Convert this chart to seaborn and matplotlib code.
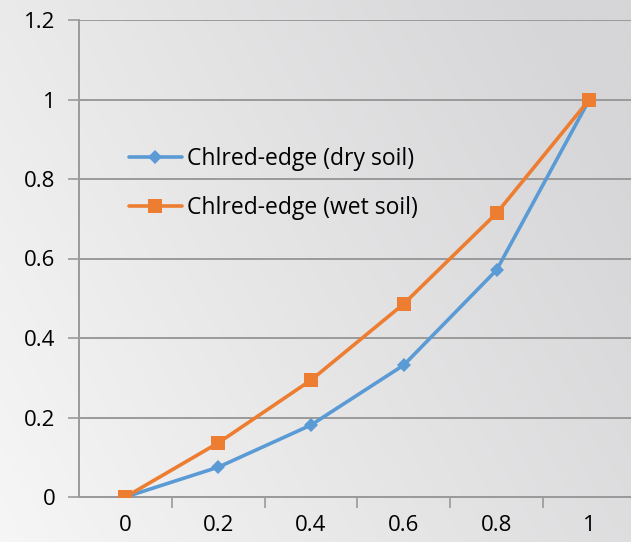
import numpy as np
import pandas as pd
import matplotlib
matplotlib.use("Agg")
import matplotlib.pyplot as plt
import seaborn as sns

# Data
x_labels = ["0", "0.2", "0.4", "0.6", "0.8", "1"]
dry_soil = [0.0, 0.075, 0.181, 0.332, 0.571, 1.0]
wet_soil = [0.0, 0.136, 0.294, 0.486, 0.714, 1.0]
series_names = ["Chlred-edge (dry soil)", "Chlred-edge (wet soil)"]
y_ticks = [0, 0.2, 0.4, 0.6, 0.8, 1.0, 1.2]
y_tick_labels = ["0", "0.2", "0.4", "0.6", "0.8", "1", "1.2"]

sns.set_theme(style="white")
plt.rcParams["font.family"] = ["Open Sans", "DejaVu Sans"]

df = pd.DataFrame({
    "pos": list(range(len(x_labels))) * 2,
    "value": dry_soil + wet_soil,
    "series": [series_names[0]] * len(dry_soil) + [series_names[1]] * len(wet_soil),
})

W, H = 631, 542
fig = plt.figure(figsize=(W / 100, H / 100), dpi=100)

# Soft grey gradient background
bg = fig.add_axes([0, 0, 1, 1], zorder=-10)
yy, xx = np.mgrid[0:1:200j, 0:1:200j]
t = np.clip(0.75 * xx + 0.35 * (1 - yy), 0, 1)
light = np.array([246, 246, 246]) / 255
dark = np.array([214, 213, 215]) / 255
img = light[None, None, :] * (1 - t[..., None]) + dark[None, None, :] * t[..., None]
bg.imshow(img, aspect="auto", extent=[0, 1, 0, 1], origin="upper")
bg.axis("off")

left = 79 / W
bottom = (H - 497) / H
top = (H - 20) / H
cat_w = 92.8 / W
ax = fig.add_axes([left, bottom, cat_w * 6, top - bottom])
ax.patch.set_alpha(0)

palette = {series_names[0]: "#5B9BD5", series_names[1]: "#ED7D31"}
markers = {series_names[0]: "D", series_names[1]: "s"}
sizes = {series_names[0]: 7, series_names[1]: 10}
for name in series_names:
    sub = df[df["series"] == name]
    sns.lineplot(data=sub, x="pos", y="value", ax=ax, color=palette[name],
                 marker=markers[name], markersize=sizes[name], linewidth=2.6,
                 markeredgewidth=0, label=name, zorder=3)

ax.set_xlim(-0.5, len(x_labels) - 0.5)
ax.set_ylim(0, 1.2)
ax.set_xlabel("")
ax.set_ylabel("")

# Horizontal gridlines extending into tick region
grid_c = "#9a9a9a"
ax.set_yticks(y_ticks)
ax.set_yticklabels(y_tick_labels)
ax.yaxis.grid(True, color=grid_c, linewidth=1.4)
ax.set_axisbelow(True)
ax.tick_params(axis="y", length=8, width=1.2, color=grid_c, pad=9,
               labelsize=16, labelcolor="black", direction="out", left=True)

# Category axis: labels at centers, tick marks at boundaries
ax.set_xticks(range(len(x_labels)))
ax.set_xticklabels(x_labels)
ax.tick_params(axis="x", which="major", length=0, pad=13, labelsize=16,
               labelcolor="black")
ax.set_xticks(np.arange(0.5, len(x_labels) - 0.5, 1.0), minor=True)
ax.tick_params(axis="x", which="minor", length=8, width=1.2, color=grid_c,
               direction="out", bottom=True)

for side in ["top", "right"]:
    ax.spines[side].set_visible(False)
for side in ["left", "bottom"]:
    ax.spines[side].set_color(grid_c)
    ax.spines[side].set_linewidth(1.4)

leg = ax.legend(loc="upper left", bbox_to_anchor=(0.073, 0.752), frameon=False,
                fontsize=16.5, handlelength=2.3, handletextpad=0.22,
                labelspacing=1.06, borderaxespad=0)
for txt in leg.get_texts():
    txt.set_color("black")

fig.savefig("out.png", dpi=100)
